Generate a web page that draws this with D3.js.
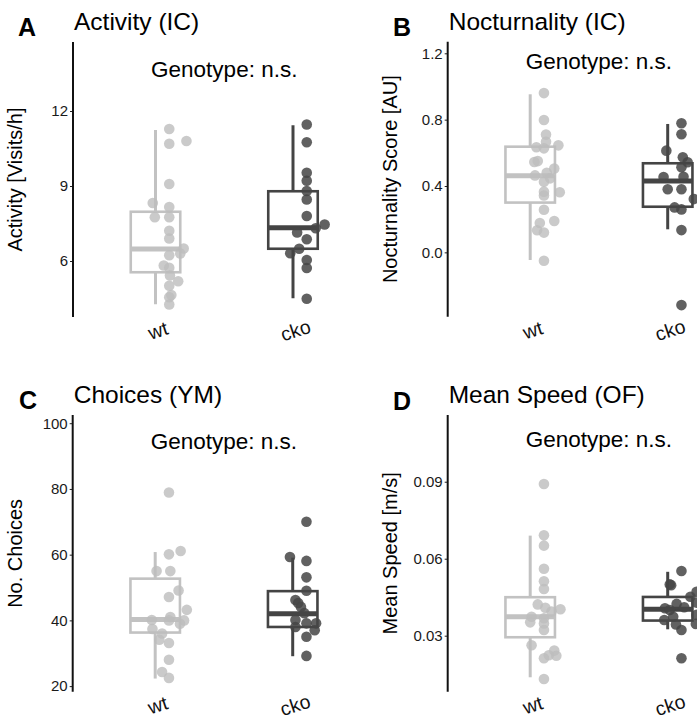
<!DOCTYPE html>
<html><head><meta charset="utf-8">
<script src="https://cdn.jsdelivr.net/npm/d3@7"></script>
<style>body{margin:0;background:#fff}svg{display:block}text{font-family:"Liberation Sans",Arial,sans-serif}</style>
</head><body>
<script>
const groups = ["wt", "cko"];

// Panel A: Activity (IC)
const activityWt = [11.28,10.80,10.69,9.08,8.32,8.16,7.75,7.75,7.21,6.90,6.50,6.30,6.23,5.82,5.73,5.42,5.19,5.01,4.64,4.55,4.26];
const activityWtJit = [0.10,0.225,0.10,0.10,-0.02,0.10,-0.005,0.10,0.10,0.10,0.205,0.18,0.10,0.06,0.10,0.105,0.165,0.10,0.115,0.10,0.10];
const activityCko = [11.46,10.75,9.53,9.21,8.80,8.46,7.80,7.46,7.31,7.14,6.87,6.49,6.31,6.04,5.72,4.49];
const activityCkoJit = [0.10,0.10,0.10,0.10,0.10,0.10,0.10,0.23,0.165,0.03,0.10,0.045,-0.02,0.10,0.10,0.10];
const activityBoxWt = [4.27,5.55,6.48,7.97,11.24];
const activityBoxCko = [4.51,6.49,7.33,8.79,11.43];

// Panel B: Nocturnality (IC)
const noctWt = [0.96,0.798,0.71,0.667,0.645,0.634,0.627,0.55,0.545,0.505,0.464,0.48,0.446,0.426,0.366,0.362,0.343,0.257,0.189,0.177,0.133,0.119,-0.051];
const noctWtJit = [0.10,0.10,0.115,0.115,0.205,0.045,0.10,0.055,0.03,0.175,0.035,0.12,0.145,0.10,0.10,0.215,0.10,0.10,0.175,0.07,0.05,0.10,0.10];
const noctCko = [0.778,0.712,0.613,0.573,0.543,0.513,0.454,0.456,0.38,0.38,0.321,0.271,0.259,0.134,-0.318];
const noctCkoJit = [0.10,0.10,-0.01,0.11,0.145,0.10,-0.03,0.115,0.0,0.10,0.19,0.05,0.10,0.10,0.10];
const noctBoxWt = [-0.046,0.30,0.462,0.637,0.953];
const noctBoxCko = [0.139,0.275,0.43,0.537,0.774];

// Panel C: Choices (YM)
const choicesWt = [78.9,60.1,61.1,55.0,55.0,49.1,47.1,43.2,40.1,41.0,40.0,40.0,39.0,37.4,36.0,34.1,33.1,28.0,24.3,22.5];
const choicesWtJit = [0.10,0.10,0.185,0.01,0.11,0.17,0.10,0.23,-0.025,0.11,0.10,0.21,0.18,-0.02,0.05,0.03,0.10,0.10,0.05,0.10];
const choicesCko = [70.0,59.3,58.1,53.1,49.0,46.2,45.3,44.1,42.2,40.1,39.1,39.1,38.0,37.0,35.0,29.2];
const choicesCkoJit = [0.10,-0.02,0.10,0.10,0.10,0.02,0.04,0.06,0.085,0.02,0.10,0.17,0.02,0.16,0.10,0.10];
const choicesBoxWt = [22.3,36.3,40.3,52.7,60.8];
const choicesBoxCko = [29.1,38.0,42.0,48.9,59.1];

// Panel D: Mean Speed (OF)
const speedWt = [0.0891,0.0691,0.0651,0.0561,0.0512,0.0482,0.0422,0.0409,0.0403,0.0394,0.0374,0.0368,0.0352,0.0348,0.0322,0.0263,0.0242,0.0224,0.0222,0.0212,0.0131];
const speedWtJit = [0.10,0.10,0.10,0.10,0.10,0.10,0.055,0.11,0.22,0.155,0.01,0.10,0.0,0.10,0.10,0.01,0.175,0.135,0.19,0.10,0.10];
const speedCko = [0.0552,0.0500,0.0497,0.0471,0.0452,0.0429,0.0424,0.0411,0.0407,0.0400,0.0381,0.0374,0.0361,0.0346,0.0344,0.0322,0.0212];
const speedCkoJit = [0.10,0.015,0.025,0.21,0.165,0.21,0.065,0.12,-0.02,0.015,0.21,0.04,-0.025,0.205,0.06,0.10,0.10];
const speedBoxWt = [0.0138,0.0294,0.0374,0.045,0.069];
const speedBoxCko = [0.0325,0.0359,0.0403,0.0451,0.0549];

const panels = [
  {letter:"A", title:"Activity (IC)", ylab:"Activity [Visits/h]", domain:[3.76,14.76], ticks:[6,9,12], fmt:d3.format("d"),
   pts:[[activityWt,activityWtJit],[activityCko,activityCkoJit]], box:[activityBoxWt,activityBoxCko],
   ax:73, top:42, bottom:317, noteY:77, letterY:36, titleY:30, letterX:18},
  {letter:"B", title:"Nocturnality (IC)", ylab:"Nocturnality Score [AU]", domain:[-0.388,1.27], ticks:[0,0.4,0.8,1.2], fmt:d3.format(".1f"),
   pts:[[noctWt,noctWtJit],[noctCko,noctCkoJit]], box:[noctBoxWt,noctBoxCko],
   ax:447.7, top:41.7, bottom:316.7, noteY:68.5, letterY:36, titleY:30, letterX:393},
  {letter:"C", title:"Choices (YM)", ylab:"No. Choices", domain:[18.3,102.5], ticks:[20,40,60,80,100], fmt:d3.format("d"),
   pts:[[choicesWt,choicesWtJit],[choicesCko,choicesCkoJit]], box:[choicesBoxWt,choicesBoxCko],
   ax:72.7, top:415, bottom:691.7, noteY:449, letterY:409, titleY:403, letterX:19},
  {letter:"D", title:"Mean Speed (OF)", ylab:"Mean Speed [m/s]", domain:[0.00818,0.116], ticks:[0.03,0.06,0.09], fmt:d3.format(".2f"),
   pts:[[speedWt,speedWtJit],[speedCko,speedCkoJit]], box:[speedBoxWt,speedBoxCko],
   ax:447.7, top:415, bottom:691.7, noteY:447, letterY:410, titleY:403, letterX:393}
];

const boxColor = ["#c2c2c2", "#444444"];
const ptColor = ["#bdbdbd", "#454545"];
const ptOpacity = [0.8, 0.85];

const svg = d3.select("body").append("svg").attr("width",697).attr("height",720);

panels.forEach(p => {
  const step = 137.5;
  const x = d3.scalePoint().domain(groups).range([p.ax + 0.6*step, p.ax + 1.6*step]);
  const y = d3.scaleLinear().domain(p.domain).range([p.bottom, p.top]);
  const g = svg.append("g");

  // y axis
  const yAxis = d3.axisLeft(y).tickValues(p.ticks).tickFormat(p.fmt).tickSize(3).tickPadding(2);
  const ag = g.append("g").attr("transform",`translate(${p.ax},0)`).call(yAxis);
  ag.select(".domain").remove();
  ag.selectAll(".tick line").attr("stroke","#222").attr("stroke-width",1);
  ag.selectAll(".tick text").attr("fill","#1a1a1a").style("font-size","15px").style("font-family","Liberation Sans, Arial, sans-serif");
  g.append("line").attr("x1",p.ax).attr("x2",p.ax).attr("y1",p.top).attr("y2",p.bottom)
    .attr("stroke","#111").attr("stroke-width",2);

  // x labels
  groups.forEach(gr => {
    g.append("text").attr("transform",`translate(${x(gr)+3},${p.bottom+15}) rotate(-18)`)
      .attr("text-anchor","middle").attr("dominant-baseline","middle")
      .attr("fill","#111").style("font-size","19.5px").text(gr);
  });

  // boxes
  const hw = 0.18*step;
  groups.forEach((gr,i) => {
    const b = p.box[i];
    const cx = x(gr);
    const c = boxColor[i];
    g.append("line").attr("x1",cx).attr("x2",cx).attr("y1",y(b[3])).attr("y2",y(b[4])).attr("stroke",c).attr("stroke-width",3);
    g.append("line").attr("x1",cx).attr("x2",cx).attr("y1",y(b[0])).attr("y2",y(b[1])).attr("stroke",c).attr("stroke-width",3);
    g.append("rect").attr("x",cx-hw).attr("width",2*hw).attr("y",y(b[3])).attr("height",y(b[1])-y(b[3]))
      .attr("fill","none").attr("stroke",c).attr("stroke-width",2.6);
    g.append("line").attr("x1",cx-hw).attr("x2",cx+hw).attr("y1",y(b[2])).attr("y2",y(b[2])).attr("stroke",c).attr("stroke-width",5);
  });

  // points
  groups.forEach((gr,i) => {
    const [vals, jit] = p.pts[i];
    g.selectAll(null).data(vals).enter().append("circle")
      .attr("cx",(d,k)=>x(gr)+jit[k]*step).attr("cy",d=>y(d)).attr("r",5.3)
      .attr("fill",ptColor[i]).attr("fill-opacity",ptOpacity[i]);
  });

  // annotation
  g.append("text").attr("x",p.ax+1.1*step).attr("y",p.noteY).attr("text-anchor","middle")
    .attr("fill","#000").style("font-size","22.5px").text("Genotype: n.s.");

  // y label
  g.append("text").attr("transform",`translate(${p.ax-51},${(p.top+p.bottom)/2}) rotate(-90)`)
    .attr("text-anchor","middle").attr("fill","#000").style("font-size","20px").text(p.ylab);

  // title and letter
  g.append("text").attr("x",p.ax+1).attr("y",p.titleY).attr("fill","#000").style("font-size","24.5px").text(p.title);
  g.append("text").attr("x",p.letterX).attr("y",p.letterY).attr("fill","#000").style("font-size","25px").style("font-weight","bold").text(p.letter);
});
</script>
</body></html>
